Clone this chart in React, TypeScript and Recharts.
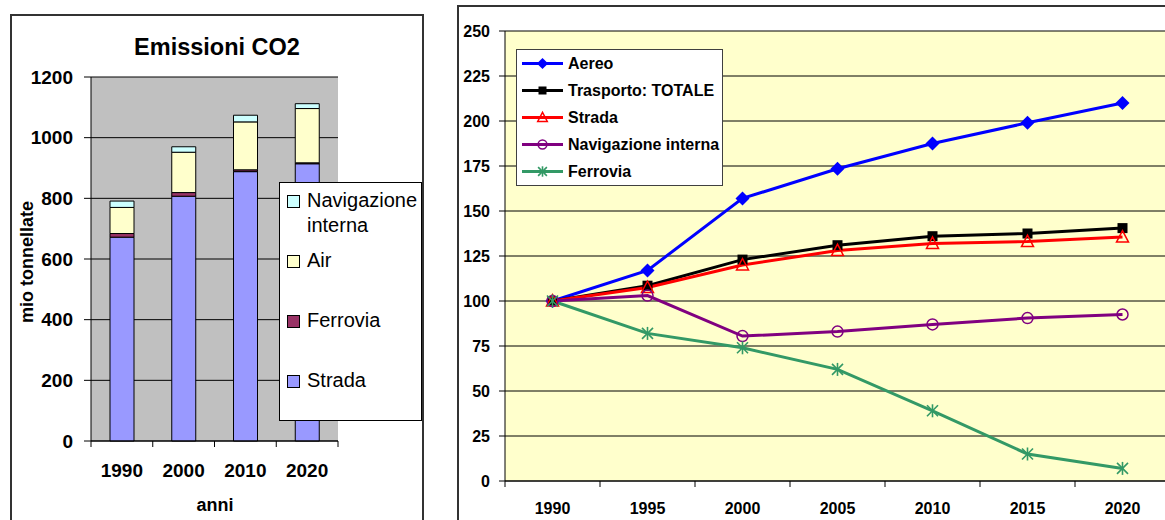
import React from "react";
import {
  BarChart,
  Bar,
  LineChart,
  Line,
  XAxis,
  YAxis,
  CartesianGrid,
  Legend,
} from "recharts";

// Emissioni CO2 (mio tonnellate), barre impilate
const anniBar = ["1990", "2000", "2010", "2020"];
const strada = [672, 807, 888, 914];
const ferrovia = [12, 12, 6, 3];
const air = [86, 133, 158, 179];
const navigazione = [21, 18, 22, 16];
const barTicks = [0, 200, 400, 600, 800, 1000, 1200];

// Indice 1990 = 100
const anniIndice = ["1990", "1995", "2000", "2005", "2010", "2015", "2020"];
const aereoIdx = [100, 117, 157, 173.5, 187.5, 199, 210];
const totaleIdx = [100, 108.5, 123, 131, 136, 137.5, 140.5];
const stradaIdx = [100, 107.5, 120, 128, 132, 133, 135.5];
const navigazioneIdx = [100, 103, 80.5, 83, 87, 90.5, 92.5];
const ferroviaIdx = [100, 82, 74, 62, 39, 15, 7];
const indexTicks = [0, 25, 50, 75, 100, 125, 150, 175, 200, 225, 250];

const FONT = "Arial, 'Liberation Sans', Helvetica, sans-serif";

const barData = anniBar.map((anno, i) => ({
  anno,
  strada: strada[i],
  ferrovia: ferrovia[i],
  air: air[i],
  navigazione: navigazione[i],
}));

const lineData = anniIndice.map((anno, i) => ({
  anno,
  aereo: aereoIdx[i],
  totale: totaleIdx[i],
  strada: stradaIdx[i],
  navigazione: navigazioneIdx[i],
  ferrovia: ferroviaIdx[i],
}));

const barSeries = [
  { key: "strada", name: "Strada", color: "#9999ff" },
  { key: "ferrovia", name: "Ferrovia", color: "#993366" },
  { key: "air", name: "Air", color: "#ffffcc" },
  { key: "navigazione", name: "Navigazione interna", color: "#ccffff" },
];

const lineSeries = [
  { key: "aereo", name: "Aereo", color: "#0000ff", marker: "diamond" },
  { key: "totale", name: "Trasporto: TOTALE", color: "#000000", marker: "square" },
  { key: "strada", name: "Strada", color: "#ff0000", marker: "triangle" },
  { key: "navigazione", name: "Navigazione interna", color: "#800080", marker: "circle" },
  { key: "ferrovia", name: "Ferrovia", color: "#339966", marker: "star" },
];

// layout of the two charts
const BAR_W = 430;
const BAR_H = 520;
const BAR_MARGIN = { top: 77, right: 92, bottom: 39, left: 31 };
const BAR_YAXIS_W = 60;
const BAR_BAND =
  (BAR_W - BAR_MARGIN.left - BAR_MARGIN.right - BAR_YAXIS_W) / anniBar.length;

const LINE_W = 720;
const LINE_H = 515;
const LINE_MARGIN = { top: 26, right: 7, bottom: 9, left: 0 };
const LINE_YAXIS_W = 48;
const LINE_BAND =
  (LINE_W - LINE_MARGIN.left - LINE_MARGIN.right - LINE_YAXIS_W) /
  anniIndice.length;

// Excel-style category axis: tick marks sit between the categories
function BoundaryTick(props: any) {
  const { x, y, payload, index, band, count, fontSize, offset } = props;
  const left = x - band / 2;
  return (
    <g>
      <line x1={left} x2={left} y1={y} y2={y + 6} stroke="#000" />
      {index === count - 1 && (
        <line x1={left + band} x2={left + band} y1={y} y2={y + 6} stroke="#000" />
      )}
      <text
        x={x}
        y={y + offset}
        textAnchor="middle"
        fontSize={fontSize}
        fontWeight="bold"
        fontFamily={FONT}
        fill="#000"
      >
        {payload.value}
      </text>
    </g>
  );
}

function Marker({ kind, cx, cy, color, s = 1 }: any) {
  if (cx == null || cy == null) return null;
  switch (kind) {
    case "diamond":
      return (
        <polygon
          points={`${cx},${cy - 7 * s} ${cx + 7 * s},${cy} ${cx},${cy + 7 * s} ${cx - 7 * s},${cy}`}
          fill={color}
        />
      );
    case "square":
      return <rect x={cx - 5 * s} y={cy - 5 * s} width={10 * s} height={10 * s} fill={color} />;
    case "triangle":
      return (
        <polygon
          points={`${cx},${cy - 6.5 * s} ${cx + 6 * s},${cy + 5 * s} ${cx - 6 * s},${cy + 5 * s}`}
          fill="none"
          stroke={color}
          strokeWidth={1.5}
        />
      );
    case "circle":
      return <circle cx={cx} cy={cy} r={5.5 * s} fill="none" stroke={color} strokeWidth={1.5} />;
    default:
      return (
        <g stroke={color} strokeWidth={1.6}>
          <line x1={cx} y1={cy - 6.5 * s} x2={cx} y2={cy + 6.5 * s} />
          <line x1={cx - 5.5 * s} y1={cy - 5.5 * s} x2={cx + 5.5 * s} y2={cy + 5.5 * s} />
          <line x1={cx - 5.5 * s} y1={cy + 5.5 * s} x2={cx + 5.5 * s} y2={cy - 5.5 * s} />
        </g>
      );
  }
}

function BarLegend() {
  const items = [...barSeries].reverse();
  return (
    <div
      style={{
        position: "relative",
        width: 143,
        height: 239,
        boxSizing: "border-box",
        background: "#fff",
        border: "1px solid #000",
        fontFamily: FONT,
        fontSize: 20,
        color: "#000",
      }}
    >
      {items.map((s, i) => (
        <div
          key={s.key}
          style={{
            position: "absolute",
            top: 5 + i * 60,
            left: 7,
            display: "flex",
            alignItems: "flex-start",
            lineHeight: "25px",
          }}
        >
          <div
            style={{
              width: 11,
              height: 11,
              marginTop: 7,
              background: s.color,
              border: "1px solid #000",
              flex: "none",
            }}
          />
          <div style={{ marginLeft: 7, width: 114 }}>{s.name}</div>
        </div>
      ))}
    </div>
  );
}

function LineLegend() {
  return (
    <div
      style={{
        width: 207,
        height: 137,
        boxSizing: "border-box",
        background: "#fff",
        border: "1px solid #404040",
        fontFamily: FONT,
        fontSize: 16,
        fontWeight: "bold",
        color: "#000",
      }}
    >
      {lineSeries.map((s) => (
        <div
          key={s.key}
          style={{ display: "flex", alignItems: "center", height: 27 }}
        >
          <svg width={46} height={27} style={{ flex: "none" }}>
            <line x1={5} x2={46} y1={13.5} y2={13.5} stroke={s.color} strokeWidth={3} />
            <Marker kind={s.marker} cx={25.5} cy={13.5} color={s.color} s={0.8} />
          </svg>
          <span style={{ marginLeft: 5, whiteSpace: "nowrap" }}>{s.name}</span>
        </div>
      ))}
    </div>
  );
}

export default function App() {
  return (
    <div
      style={{
        position: "absolute",
        left: 0,
        top: 0,
        width: 1165,
        height: 520,
        overflow: "hidden",
        background: "#fff",
        fontFamily: FONT,
      }}
    >
      {/* cornici dei due grafici */}
      <div
        style={{
          position: "absolute",
          left: 10,
          top: 14,
          width: 414,
          height: 540,
          boxSizing: "border-box",
          border: "2px solid #333",
        }}
      />
      <div
        style={{
          position: "absolute",
          left: 457,
          top: 5,
          width: 760,
          height: 540,
          boxSizing: "border-box",
          border: "2px solid #333",
        }}
      />

      <div
        style={{
          position: "absolute",
          left: 10,
          top: 33,
          width: 414,
          textAlign: "center",
          fontSize: 23.5,
          fontWeight: "bold",
          lineHeight: "28px",
        }}
      >
        Emissioni CO2
      </div>
      <div
        style={{
          position: "absolute",
          left: 27,
          top: 262,
          transform: "translate(-50%, -50%) rotate(-90deg)",
          whiteSpace: "nowrap",
          fontSize: 18,
          fontWeight: "bold",
        }}
      >
        mio tonnellate
      </div>
      <div
        style={{
          position: "absolute",
          left: 215,
          top: 505,
          transform: "translate(-50%, -50%)",
          fontSize: 18,
          fontWeight: "bold",
        }}
      >
        anni
      </div>

      <div style={{ position: "absolute", left: 0, top: 0 }}>
        <BarChart width={BAR_W} height={BAR_H} data={barData} margin={BAR_MARGIN} barSize={24}>
          <CartesianGrid vertical={false} stroke="#000" fill="#c0c0c0" fillOpacity={1} />
          <XAxis
            dataKey="anno"
            height={40}
            tickSize={0}
            tickMargin={0}
            tickLine={false}
            axisLine={{ stroke: "#000" }}
            interval={0}
            tick={(p: any) => (
              <BoundaryTick {...p} band={BAR_BAND} count={anniBar.length} fontSize={19} offset={36} />
            )}
          />
          <YAxis
            width={BAR_YAXIS_W}
            domain={[0, 1200]}
            ticks={barTicks}
            interval={0}
            tickSize={7}
            tickMargin={11}
            axisLine={{ stroke: "#000" }}
            tickLine={{ stroke: "#000" }}
            tick={{ fontSize: 19, fontWeight: "bold", fill: "#000", fontFamily: FONT }}
          />
          <Legend
            layout="vertical"
            align="center"
            verticalAlign="middle"
            wrapperStyle={{ left: 279, top: 182, width: 143, height: 239 }}
            content={() => <BarLegend />}
          />
          {barSeries.map((s) => (
            <Bar
              key={s.key}
              dataKey={s.key}
              name={s.name}
              stackId="co2"
              fill={s.color}
              stroke="#000"
              strokeWidth={1}
              isAnimationActive={false}
            />
          ))}
        </BarChart>
      </div>

      <div style={{ position: "absolute", left: 457, top: 5 }}>
        <LineChart width={LINE_W} height={LINE_H} data={lineData} margin={LINE_MARGIN}>
          <CartesianGrid vertical={false} stroke="#000" fill="#ffffcc" fillOpacity={1} />
          <XAxis
            dataKey="anno"
            height={30}
            padding={{ left: LINE_BAND / 2, right: LINE_BAND / 2 }}
            tickSize={0}
            tickMargin={0}
            tickLine={false}
            axisLine={{ stroke: "#000" }}
            interval={0}
            tick={(p: any) => (
              <BoundaryTick {...p} band={LINE_BAND} count={anniIndice.length} fontSize={16} offset={33} />
            )}
          />
          <YAxis
            width={LINE_YAXIS_W}
            domain={[0, 250]}
            ticks={indexTicks}
            interval={0}
            tickSize={6}
            tickMargin={9}
            axisLine={{ stroke: "#000" }}
            tickLine={{ stroke: "#000" }}
            tick={{ fontSize: 16, fontWeight: "bold", fill: "#000", fontFamily: FONT }}
          />
          <Legend
            layout="vertical"
            align="center"
            verticalAlign="middle"
            wrapperStyle={{ left: 59, top: 44, width: 207, height: 137 }}
            content={() => <LineLegend />}
          />
          {lineSeries.map((s) => (
            <Line
              key={s.key}
              type="linear"
              dataKey={s.key}
              name={s.name}
              stroke={s.color}
              strokeWidth={3}
              isAnimationActive={false}
              activeDot={false}
              dot={(p: any) => (
                <Marker key={`${s.key}-${p.index}`} kind={s.marker} cx={p.cx} cy={p.cy} color={s.color} />
              )}
            />
          ))}
        </LineChart>
      </div>
    </div>
  );
}
